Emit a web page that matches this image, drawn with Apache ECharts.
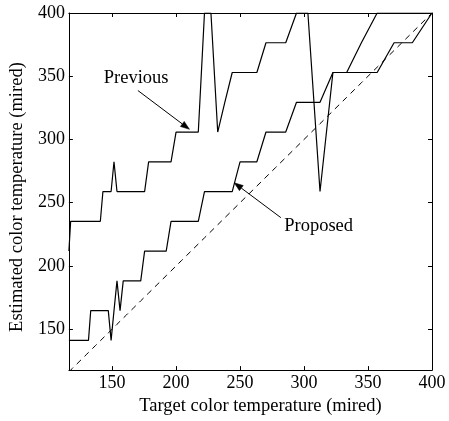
<!DOCTYPE html>
<html>
<head>
<meta charset="utf-8">
<script src="https://cdn.jsdelivr.net/npm/echarts@6/dist/echarts.min.js"></script>
<style>
  html, body { margin: 0; padding: 0; background: #fff; }
  #chart { width: 449px; height: 421px; }
</style>
</head>
<body>
<div id="chart"></div>
<script>
// Target colour temperatures (mired), 8600 K down to 2500 K in 100 K steps
const targetMired = [
  116.28, 117.65, 119.05, 120.48, 121.95, 123.46, 125.00, 126.58, 128.21, 129.87,
  131.58, 133.33, 135.14, 136.99, 138.89, 140.85, 142.86, 144.93, 147.06, 149.25,
  151.52, 153.85, 156.25, 158.73, 161.29, 163.93, 166.67, 169.49, 172.41, 175.44,
  178.57, 181.82, 185.19, 188.68, 192.31, 196.08, 200.00, 204.08, 208.33, 212.77,
  217.39, 222.22, 227.27, 232.56, 238.10, 243.90, 250.00, 256.41, 263.16, 270.27,
  277.78, 285.71, 294.12, 303.03, 312.50, 322.58, 333.33, 344.83, 357.14, 370.37,
  384.62, 400.00
];

// Estimated colour temperature, proposed method (mired)
const proposedMired = [
  141.18, 141.18, 141.18, 141.18, 141.18, 141.18, 141.18, 141.18, 141.18, 141.18,
  141.18, 164.71, 164.71, 164.71, 164.71, 164.71, 164.71, 164.71, 164.71, 141.18,
  164.71, 188.24, 164.71, 188.24, 188.24, 188.24, 188.24, 188.24, 188.24, 211.76,
  211.76, 211.76, 211.76, 211.76, 211.76, 235.29, 235.29, 235.29, 235.29, 235.29,
  235.29, 258.82, 258.82, 258.82, 258.82, 258.82, 282.35, 282.35, 282.35, 305.88,
  305.88, 305.88, 329.41, 329.41, 329.41, 352.94, 352.94, 352.94, 352.94, 376.47,
  376.47, 400.00
];

// Estimated colour temperature, previous method (mired)
const previousMired = [
  211.76, 235.29, 235.29, 235.29, 235.29, 235.29, 235.29, 235.29, 235.29, 235.29,
  235.29, 235.29, 235.29, 235.29, 235.29, 235.29, 258.82, 258.82, 258.82, 258.82,
  282.35, 258.82, 258.82, 258.82, 258.82, 258.82, 258.82, 258.82, 258.82, 258.82,
  282.35, 282.35, 282.35, 282.35, 282.35, 282.35, 305.88, 305.88, 305.88, 305.88,
  305.88, 400.00, 400.00, 305.88, 329.41, 352.94, 352.94, 352.94, 352.94, 376.47,
  376.47, 376.47, 400.00, 400.00, 258.82, 352.94, 352.94, 376.47, 400.00, 400.00,
  400.00, 400.00
];

const xTicks = [150, 200, 250, 300, 350, 400];
const yTicks = [150, 200, 250, 300, 350, 400];
const xRange = [116.28, 400];
const yRange = [117.65, 400];

const FONT = 'Liberation Serif';
const INK = '#000';

const chart = echarts.init(document.getElementById('chart'), null, { renderer: 'canvas' });

function axisBase(extra) {
  return Object.assign({
    type: 'value',
    axisLine: { show: true, onZero: false, lineStyle: { color: INK, width: 1 } },
    axisTick: { show: true, inside: true, length: 4, customValues: xTicks, lineStyle: { color: INK } },
    splitLine: { show: false },
    axisLabel: { show: false }
  }, extra);
}

const option = {
  animation: false,
  backgroundColor: '#fff',
  grid: { left: 63, top: 13, width: 369, height: 368, containLabel: false },
  xAxis: [
    axisBase({
      position: 'bottom', min: xRange[0], max: xRange[1],
      axisTick: { show: true, inside: true, length: 4, customValues: xTicks, lineStyle: { color: INK } },
      axisLabel: { show: true, customValues: xTicks, margin: 4, color: INK, fontFamily: FONT, fontSize: 18 },
      name: 'Target color temperature (mired)',
      nameLocation: 'middle', nameGap: 27,
      nameTextStyle: { color: INK, fontFamily: FONT, fontSize: 18.5, verticalAlign: 'middle', padding: [0, 0, 0, 20] }
    }),
    axisBase({
      position: 'top', min: xRange[0], max: xRange[1],
      axisTick: { show: true, inside: true, length: 4, customValues: xTicks, lineStyle: { color: INK } }
    })
  ],
  yAxis: [
    axisBase({
      position: 'left', min: yRange[0], max: yRange[1],
      axisTick: { show: true, inside: true, length: 4, customValues: yTicks, lineStyle: { color: INK } },
      axisLabel: { show: true, customValues: yTicks, margin: 4, color: INK, fontFamily: FONT, fontSize: 18 },
      name: 'Estimated color temperature (mired)',
      nameLocation: 'middle', nameGap: 45,
      nameTextStyle: { color: INK, fontFamily: FONT, fontSize: 18.5, verticalAlign: 'middle', padding: [0, 11, 0, 0] }
    }),
    axisBase({
      position: 'right', min: yRange[0], max: yRange[1],
      axisTick: { show: true, inside: true, length: 4, customValues: yTicks, lineStyle: { color: INK } }
    })
  ],
  series: [
    {
      name: 'Ideal', type: 'line', xAxisIndex: 0, yAxisIndex: 0,
      data: targetMired.map(t => [t, t]),
      showSymbol: false, symbol: 'none', clip: true,
      lineStyle: { color: INK, width: 1, type: [6, 5] }
    },
    {
      name: 'Proposed', type: 'line', xAxisIndex: 0, yAxisIndex: 0,
      data: targetMired.map((t, i) => [t, proposedMired[i]]),
      showSymbol: false, symbol: 'none', clip: true,
      lineStyle: { color: INK, width: 1.2 }
    },
    {
      name: 'Previous', type: 'line', xAxisIndex: 0, yAxisIndex: 0,
      data: targetMired.map((t, i) => [t, previousMired[i]]),
      showSymbol: false, symbol: 'none', clip: true,
      lineStyle: { color: INK, width: 1.2 }
    }
  ]
};

chart.setOption(option);

// Callout labels with arrows, placed in data coordinates
const callouts = [
  { text: 'Previous', label: [168.8, 348.8], from: [170.2, 338.7], to: [210.5, 308.0] },
  { text: 'Proposed', label: [311.4, 231.5], from: [281.9, 238.2], to: [245.4, 265.8] }
];

const graphics = [];
callouts.forEach(c => {
  const lp = chart.convertToPixel({ gridIndex: 0 }, c.label);
  const a = chart.convertToPixel({ gridIndex: 0 }, c.from);
  const b = chart.convertToPixel({ gridIndex: 0 }, c.to);
  const dx = b[0] - a[0], dy = b[1] - a[1];
  const len = Math.hypot(dx, dy);
  const ux = dx / len, uy = dy / len;
  const headL = 9, headW = 3.2;
  const base = [b[0] - ux * headL, b[1] - uy * headL];
  graphics.push({
    type: 'text', x: lp[0], y: lp[1],
    style: { text: c.text, fill: INK, font: '18.5px "' + FONT + '"', textAlign: 'center', textVerticalAlign: 'middle' }
  });
  graphics.push({
    type: 'line',
    shape: { x1: a[0], y1: a[1], x2: base[0], y2: base[1] },
    style: { stroke: INK, lineWidth: 1 }
  });
  graphics.push({
    type: 'polygon',
    shape: { points: [
      [b[0], b[1]],
      [base[0] - uy * headW, base[1] + ux * headW],
      [base[0] + uy * headW, base[1] - ux * headW]
    ] },
    style: { fill: INK, stroke: INK, lineWidth: 0.5 }
  });
});

chart.setOption({ graphic: graphics });
</script>
</body>
</html>
